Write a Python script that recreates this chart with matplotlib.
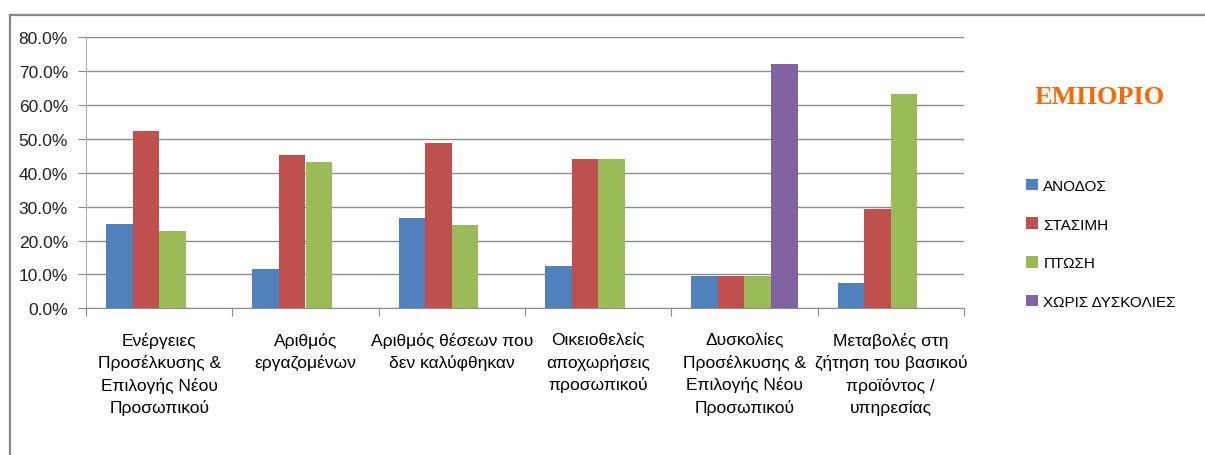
import numpy as np
import matplotlib
matplotlib.use('Agg')
import matplotlib.pyplot as plt
from matplotlib.lines import Line2D

# data (percent)
categories = [
    'Ενέργειες\nΠροσέλκυσης &\nΕπιλογής Νέου\nΠροσωπικού',
    'Αριθμός\nεργαζομένων',
    'Αριθμός θέσεων που\nδεν καλύφθηκαν',
    'Οικειοθελείς\nαποχωρήσεις\nπροσωπικού',
    'Δυσκολίες\nΠροσέλκυσης &\nΕπιλογής Νέου\nΠροσωπικού',
    'Μεταβολές στη\nζήτηση του βασικού\nπροϊόντος /\nυπηρεσίας',
]
anodos = [25.0, 11.5, 26.8, 12.4, 9.4, 7.4]
stasimi = [52.2, 45.4, 48.7, 44.0, 9.4, 29.2]
ptosi = [22.7, 43.1, 24.5, 44.0, 9.4, 63.4]
xoris = [np.nan, np.nan, np.nan, np.nan, 72.0, np.nan]
series_names = ['ΑΝΟΔΟΣ', 'ΣΤΑΣΙΜΗ', 'ΠΤΩΣΗ', 'ΧΩΡΙΣ ΔΥΣΚΟΛΙΕΣ']
colors = ['#4F81BD', '#C0504D', '#9BBB59', '#8064A2']
y_ticks = [0, 10, 20, 30, 40, 50, 60, 70, 80]

W, H = 1205, 456
fig = plt.figure(figsize=(W / 100, H / 100), dpi=100)
ax = fig.add_axes([86 / W, (H - 309.3) / H, 878 / W, 271 / H])

label_font = ['Liberation Sans', 'DejaVu Sans']

x = np.arange(len(categories))
w = 0.182
for i, (vals, name, c) in enumerate(zip([anodos, stasimi, ptosi, xoris], series_names, colors)):
    ax.bar(x + (i - 1.5) * w, vals, width=w, color=c, label=name, zorder=3)

ax.set_xlim(-0.5, len(categories) - 0.5)
ax.set_ylim(0, 80)
ax.set_yticks(y_ticks)
ax.set_yticklabels([f'{v:.1f}%' for v in y_ticks], fontsize=12.5, family=label_font, color='#222222')
ax.yaxis.grid(True, color='#8c8c8c', linewidth=1, zorder=0)

ax.set_xticks(np.arange(-0.5, len(categories), 1.0))
ax.set_xticklabels([])
ax.set_xticks(x, minor=True)
ax.set_xticklabels(categories, minor=True, fontsize=12.5, family=label_font, linespacing=1.5)
ax.tick_params(axis='x', which='major', length=6, color='#8c8c8c', direction='out')
ax.tick_params(axis='x', which='minor', length=0, pad=17)
ax.tick_params(axis='y', length=6, color='#8c8c8c', pad=7)

for s in ['top', 'right']:
    ax.spines[s].set_visible(False)
ax.spines['left'].set_color('#b0b0b0')
ax.spines['bottom'].set_color('#8c8c8c')

leg = fig.legend(loc='upper left', bbox_to_anchor=(1012 / W, (H - 166) / H),
                 frameon=False, prop={'family': label_font, 'size': 11},
                 handlelength=0.8, handleheight=0.8, handletextpad=0.35,
                 labelspacing=1.6)

fig.text(1100 / W, (H - 98) / H, 'ΕΜΠΟΡΙΟ', ha='center', va='center',
         fontsize=19, fontweight='bold', color='#FF6600', family='Liberation Serif')

# chart frame
fig.add_artist(Line2D([10 / W, 1], [(H - 16) / H, (H - 16) / H], color='#868686', lw=1.6))
fig.add_artist(Line2D([10 / W, 10 / W], [0, (H - 16) / H], color='#868686', lw=1.6))

fig.savefig('out.png', dpi=100)
